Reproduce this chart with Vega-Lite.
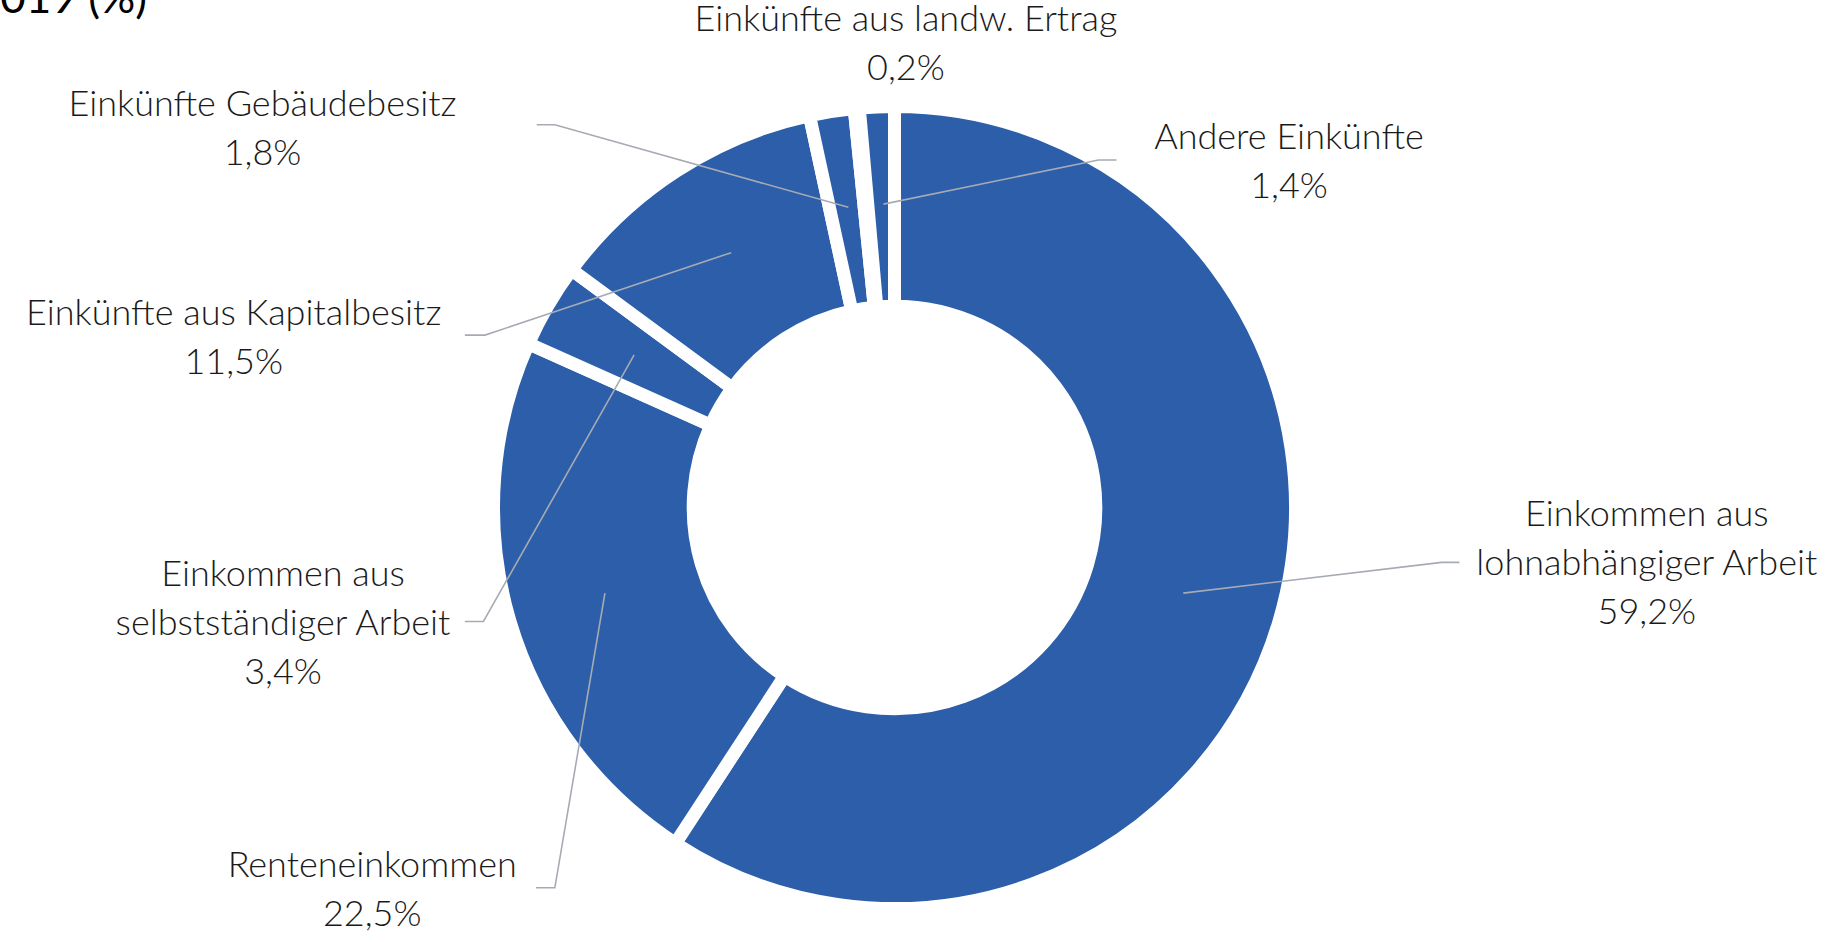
{
  "$schema": "https://vega.github.io/schema/vega-lite/v6.json",
  "autosize": {"type": "none"},
  "width": 1789,
  "height": 849,
  "padding": {"left": 0, "top": 83, "right": 33, "bottom": 0},
  "background": "white",
  "config": {"view": {"stroke": null}},
  "datasets": {
    "slices": [
      {"Kategorie": "Einkommen aus lohnabhängiger Arbeit", "Anteil": 59.2, "rank": 1},
      {"Kategorie": "Renteneinkommen", "Anteil": 22.5, "rank": 2},
      {"Kategorie": "Einkommen aus selbstständiger Arbeit", "Anteil": 3.4, "rank": 3},
      {"Kategorie": "Einkünfte aus Kapitalbesitz", "Anteil": 11.5, "rank": 4},
      {"Kategorie": "Einkünfte Gebäudebesitz", "Anteil": 1.8, "rank": 5},
      {"Kategorie": "Einkünfte aus landw. Ertrag", "Anteil": 0.2, "rank": 6},
      {"Kategorie": "Andere Einkünfte", "Anteil": 1.4, "rank": 7}
    ],
    "leaders": [
      {"Kategorie": "Einkommen aus lohnabhängiger Arbeit", "seq": 1, "lx": 73.2, "ly": -21.7},
      {"Kategorie": "Einkommen aus lohnabhängiger Arbeit", "seq": 2, "lx": 138.7, "ly": -13.9},
      {"Kategorie": "Einkommen aus lohnabhängiger Arbeit", "seq": 3, "lx": 143.2, "ly": -13.9},
      {"Kategorie": "Renteneinkommen", "seq": 1, "lx": -73.4, "ly": -21.7},
      {"Kategorie": "Renteneinkommen", "seq": 2, "lx": -86.1, "ly": -96.4},
      {"Kategorie": "Renteneinkommen", "seq": 3, "lx": -90.9, "ly": -96.4},
      {"Kategorie": "Einkommen aus selbstständiger Arbeit", "seq": 1, "lx": -66.0, "ly": 38.7},
      {"Kategorie": "Einkommen aus selbstständiger Arbeit", "seq": 2, "lx": -104.2, "ly": -28.9},
      {"Kategorie": "Einkommen aus selbstständiger Arbeit", "seq": 3, "lx": -108.9, "ly": -28.9},
      {"Kategorie": "Einkünfte aus Kapitalbesitz", "seq": 1, "lx": -41.4, "ly": 64.6},
      {"Kategorie": "Einkünfte aus Kapitalbesitz", "seq": 2, "lx": -103.8, "ly": 43.7},
      {"Kategorie": "Einkünfte aus Kapitalbesitz", "seq": 3, "lx": -108.9, "ly": 43.7},
      {"Kategorie": "Einkünfte Gebäudebesitz", "seq": 1, "lx": -11.7, "ly": 76.1},
      {"Kategorie": "Einkünfte Gebäudebesitz", "seq": 2, "lx": -86.1, "ly": 97.0},
      {"Kategorie": "Einkünfte Gebäudebesitz", "seq": 3, "lx": -90.7, "ly": 97.0},
      {"Kategorie": "Andere Einkünfte", "seq": 1, "lx": -2.8, "ly": 76.9},
      {"Kategorie": "Andere Einkünfte", "seq": 2, "lx": 51.7, "ly": 88.1},
      {"Kategorie": "Andere Einkünfte", "seq": 3, "lx": 56.3, "ly": 88.1}
    ],
    "labels": [
      {"Kategorie": "Einkommen aus lohnabhängiger Arbeit", "Text": ["Einkommen aus", "lohnabhängiger Arbeit", "59,2%"], "lx": 190.7, "ly": -1.9},
      {"Kategorie": "Renteneinkommen", "Text": ["Renteneinkommen", "22,5%"], "lx": -132.4, "ly": -90.9},
      {"Kategorie": "Einkommen aus selbstständiger Arbeit", "Text": ["Einkommen aus", "selbstständiger Arbeit", "3,4%"], "lx": -155.0, "ly": -17.1},
      {"Kategorie": "Einkünfte aus Kapitalbesitz", "Text": ["Einkünfte aus Kapitalbesitz", "11,5%"], "lx": -167.5, "ly": 49.0},
      {"Kategorie": "Einkünfte Gebäudebesitz", "Text": ["Einkünfte Gebäudebesitz", "1,8%"], "lx": -160.2, "ly": 102.1},
      {"Kategorie": "Einkünfte aus landw. Ertrag", "Text": ["Einkünfte aus landw. Ertrag", "0,2%"], "lx": 2.9, "ly": 123.6},
      {"Kategorie": "Andere Einkünfte", "Text": ["Andere Einkünfte", "1,4%"], "lx": 100.0, "ly": 93.7}
    ],
    "heading": [
      {"Text": "2019 (%)", "lx": -189.5, "ly": 125.3}
    ]
  },
  "layer": [
    {
      "data": {"name": "slices"},
      "mark": {
        "type": "arc",
        "radius": 401,
        "innerRadius": 201.3,
        "color": "#2c5eaa",
        "stroke": "white",
        "strokeWidth": 13
      },
      "encoding": {
        "theta": {"field": "Anteil", "type": "quantitative", "stack": true},
        "order": {"field": "rank", "type": "quantitative"}
      }
    },
    {
      "data": {"name": "leaders"},
      "mark": {"type": "line", "color": "#a6abb3", "strokeWidth": 1.6, "interpolate": "linear"},
      "encoding": {
        "x": {"field": "lx", "type": "quantitative", "axis": null, "scale": {"domain": [-226.74, 226.74], "nice": false, "zero": false}},
        "y": {"field": "ly", "type": "quantitative", "axis": null, "scale": {"domain": [-107.6, 107.6], "nice": false, "zero": false}},
        "detail": {"field": "Kategorie", "type": "nominal"},
        "order": {"field": "seq", "type": "quantitative"}
      }
    },
    {
      "data": {"name": "labels"},
      "mark": {
        "type": "text",
        "font": "Lato",
        "fontWeight": 300,
        "fontSize": 36,
        "lineHeight": 49,
        "align": "center",
        "baseline": "middle",
        "color": "#1a1a1a"
      },
      "encoding": {
        "x": {"field": "lx", "type": "quantitative"},
        "y": {"field": "ly", "type": "quantitative"},
        "text": {"field": "Text"}
      }
    },
    {
      "data": {"name": "heading"},
      "mark": {
        "type": "text",
        "font": "Lato",
        "fontWeight": 400,
        "fontSize": 44,
        "align": "right",
        "baseline": "alphabetic",
        "color": "#000000"
      },
      "encoding": {
        "x": {"field": "lx", "type": "quantitative"},
        "y": {"field": "ly", "type": "quantitative"},
        "text": {"field": "Text"}
      }
    }
  ]
}
